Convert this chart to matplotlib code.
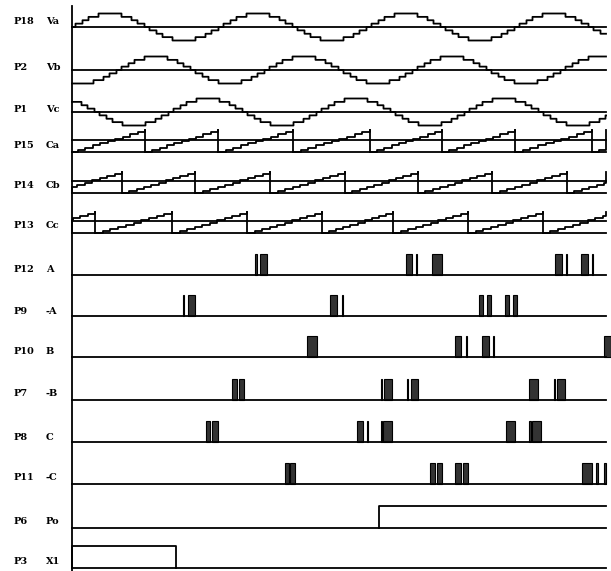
import numpy as np
import matplotlib
matplotlib.use("Agg")
import matplotlib.pyplot as plt
from matplotlib.patches import Rectangle

# channel labels (pin, signal)
pins = ["P18", "P2", "P1", "P15", "P14", "P13", "P12", "P9", "P10", "P7", "P8", "P11", "P6", "P3"]
names = ["Va", "Vb", "Vc", "Ca", "Cb", "Cc", "A", "-A", "B", "-B", "C", "-C", "Po", "X1"]

# reference sines: period and first rising zero crossing (time units = px)
sine_period = 148
sine_upcross = [73, 119, 171]

# carrier sawtooths: positions of the falling edges
saw_period = 74.5
saw_drops = [
    [145, 218, 293, 370, 442, 515, 592],   # Ca
    [122, 195, 270, 345, 418, 492, 567],   # Cb
    [95, 172, 247, 322, 393, 468, 543],    # Cc
]

# gate pulse trains: (start, end)
pulses = [
    [(255, 256.5), (260, 267), (406, 412), (415.5, 417), (432, 442),
     (555, 562), (565.5, 567), (581, 588), (591.5, 593)],                 # A
    [(182.5, 184), (188, 195), (330, 337), (341.5, 343), (479, 483),
     (487, 491), (505, 509), (513, 517)],                                 # -A
    [(307, 317), (455, 461), (465.5, 467), (482, 489), (492.5, 494),
     (604, 611)],                                                         # B
    [(232, 237), (239, 244), (380.5, 382), (384, 392), (406.5, 408),
     (411, 418), (529, 538), (553.5, 555), (557, 565)],                   # -B
    [(206, 210), (212, 218), (357, 363), (366.5, 368), (380.5, 382),
     (383, 392), (506, 515), (529, 530.5), (532, 541)],                   # C
    [(285, 289), (290, 295), (430, 435), (437, 442), (455, 461),
     (463, 468), (582, 592), (596, 597.5), (604, 606)],                   # -C
]

# level signals: (start, end) of the high state
po_high = (379, 606)
x1_high = (72, 176)

# layout (pixels)
W, H = 611, 571
XS, XE = 72, 606
base_y = [27, 70, 112, 152, 193, 233, 275, 316, 357, 400, 442, 484, 528, 568]
label_y = [22, 67, 109, 145, 186, 225, 270, 311, 352, 394, 437, 478, 521, 562]
LW = 1.3
NSTEP = 10

fig = plt.figure(figsize=(W / 100, H / 100), dpi=100)
ax = fig.add_axes([0, 0, 1, 1])
ax.set_xlim(0, W)
ax.set_ylim(H, 0)
ax.axis("off")

ax.plot([XS, XS], [6, H], color="black", lw=LW)

# sines, stepped like the original low-res trace
x = np.arange(XS, XE + 1, 1.0)
for i, up in enumerate(sine_upcross):
    y0 = base_y[i]
    ax.plot([XS, XE], [y0, y0], color="black", lw=LW)
    s = np.sin(2 * np.pi * (x - up) / sine_period)
    ax.step(x, y0 - 13.5 * np.round(4 * s) / 4, where="mid", color="black", lw=LW)

# sawtooths
for j, drops in enumerate(saw_drops):
    yb = base_y[3 + j]
    top = 22 if j == 0 else 21
    ax.plot([XS, XE], [yb, yb], color="black", lw=LW)
    ax.plot([XS, XE], [yb - 12, yb - 12], color="black", lw=LW)
    edges = [drops[0] - saw_period] + drops + [drops[-1] + saw_period]
    for a, b in zip(edges[:-1], edges[1:]):
        xs = np.linspace(a, b, NSTEP + 1)
        ys = yb - top * np.arange(NSTEP + 1) / NSTEP
        keep = (xs >= XS) & (xs <= XE)
        if not keep.any():
            continue
        ax.step(np.clip(xs, XS, XE), ys, where="post", color="black", lw=LW)
        if XS <= b <= XE:
            ax.plot([b, b], [yb - top, yb], color="black", lw=LW)

# gate pulses
for k, train in enumerate(pulses):
    yb = base_y[6 + k]
    ax.plot([XS, XE], [yb, yb], color="black", lw=LW)
    for s0, s1 in train:
        ax.add_patch(Rectangle((s0, yb - 21), s1 - s0, 21, facecolor="#333333",
                               edgecolor="black", lw=0.8))

# level signals
yb = base_y[12]
ax.plot([XS, XE], [yb, yb], color="black", lw=LW)
ax.plot([po_high[0], po_high[0], po_high[1]], [yb, yb - 22, yb - 22], color="black", lw=LW)
yb = base_y[13]
ax.plot([XS, XE], [yb, yb], color="black", lw=LW)
ax.plot([x1_high[0], x1_high[0], x1_high[1], x1_high[1]], [yb, yb - 22, yb - 22, yb],
        color="black", lw=LW)

for p, n, ly in zip(pins, names, label_y):
    ax.text(14, ly, p, fontsize=7, fontweight="bold", family="DejaVu Serif",
            va="center", ha="left")
    ax.text(46, ly, n, fontsize=7, fontweight="bold", family="DejaVu Serif",
            va="center", ha="left")

fig.savefig("out.png", dpi=100)
